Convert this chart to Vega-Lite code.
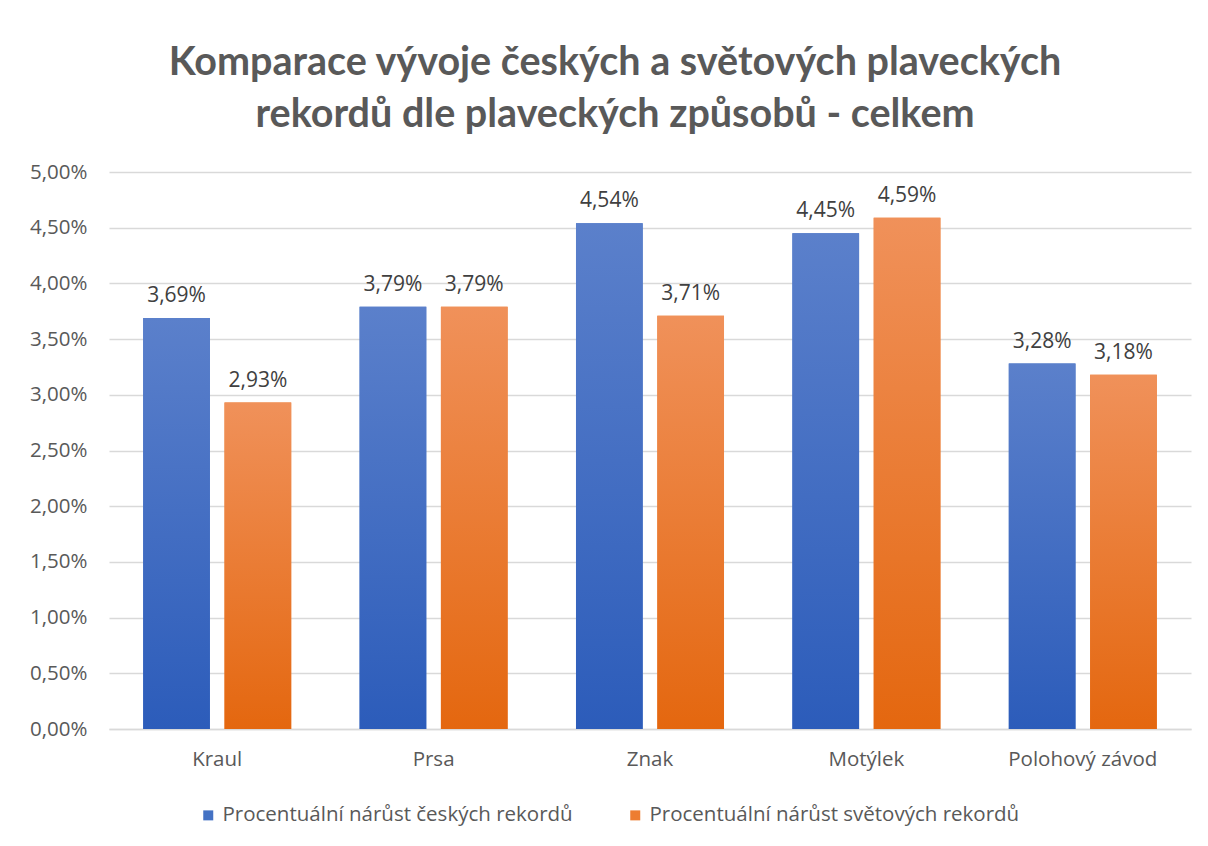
{
  "$schema": "https://vega.github.io/schema/vega-lite/v6.json",
  "width": 1082,
  "height": 557,
  "autosize": {"type": "none"},
  "padding": {"left": 109, "top": 172, "right": 17, "bottom": 117},
  "background": "white",
  "title": {
    "text": ["Komparace vývoje českých a světových plaveckých", "rekordů dle plaveckých způsobů - celkem"],
    "font": "Lato",
    "fontSize": 39.5,
    "fontWeight": "bold",
    "color": "#595959",
    "anchor": "middle",
    "dx": -35,
    "offset": 27,
    "lineHeight": 52
  },
  "data": {
    "values": [
      {"cat": "Kraul", "s": "Procentuální nárůst českých rekordů", "v": 0.0369},
      {"cat": "Kraul", "s": "Procentuální nárůst světových rekordů", "v": 0.0293},
      {"cat": "Prsa", "s": "Procentuální nárůst českých rekordů", "v": 0.0379},
      {"cat": "Prsa", "s": "Procentuální nárůst světových rekordů", "v": 0.0379},
      {"cat": "Znak", "s": "Procentuální nárůst českých rekordů", "v": 0.0454},
      {"cat": "Znak", "s": "Procentuální nárůst světových rekordů", "v": 0.0371},
      {"cat": "Motýlek", "s": "Procentuální nárůst českých rekordů", "v": 0.0445},
      {"cat": "Motýlek", "s": "Procentuální nárůst světových rekordů", "v": 0.0459},
      {"cat": "Polohový závod", "s": "Procentuální nárůst českých rekordů", "v": 0.0328},
      {"cat": "Polohový závod", "s": "Procentuální nárůst světových rekordů", "v": 0.0318}
    ]
  },
  "encoding": {
    "x": {
      "field": "cat", "type": "nominal", "sort": null,
      "scale": {"paddingInner": 0.316, "paddingOuter": 0.158},
      "axis": {"title": null, "labelAngle": 0, "labelFont": "Open Sans", "labelFontSize": 20.5, "labelColor": "#595959", "labelPadding": 20, "ticks": false, "domainColor": "#d9d9d9", "domainWidth": 1.5, "grid": false}
    },
    "xOffset": {"field": "s", "type": "nominal", "sort": ["Procentuální nárůst českých rekordů", "Procentuální nárůst světových rekordů"], "scale": {"paddingInner": 0.18, "paddingOuter": 0}},
    "y": {
      "field": "v", "type": "quantitative",
      "scale": {"domain": [0, 0.05], "nice": false},
      "axis": {"title": null, "format": ".2%", "values": [0, 0.005, 0.01, 0.015, 0.02, 0.025, 0.03, 0.035, 0.04, 0.045, 0.05], "labelFont": "Open Sans", "labelFontSize": 20.5, "labelColor": "#595959", "labelPadding": 22, "ticks": false, "domain": false, "gridColor": "#d9d9d9", "gridWidth": 1.5}
    }
  },
  "layer": [
    {
      "mark": {"type": "bar"},
      "encoding": {
        "color": {
          "field": "s", "type": "nominal",
          "scale": {"domain": ["Procentuální nárůst českých rekordů", "Procentuální nárůst světových rekordů"], "range": ["#4472C4", "#ED7D31"]},
          "legend": {"title": null, "orient": "none", "direction": "horizontal", "legendX": 89, "legendY": 633, "symbolType": "square", "symbolSize": 100, "symbolStrokeWidth": 0, "labelFont": "Open Sans", "labelFontSize": 20.5, "labelColor": "#595959", "labelOffset": 4, "columnPadding": 52, "labelLimit": 600}
        }
      }
    },
    {
      "mark": {"type": "bar"},
      "encoding": {
        "fill": {
          "condition": {
            "test": "datum.s === 'Procentuální nárůst českých rekordů'",
            "value": {"gradient": "linear", "x1": 0, "y1": 0, "x2": 0, "y2": 1, "stops": [{"offset": 0, "color": "#5b80cb"}, {"offset": 1, "color": "#2c5cba"}]}
          },
          "value": {"gradient": "linear", "x1": 0, "y1": 0, "x2": 0, "y2": 1, "stops": [{"offset": 0, "color": "#f0915a"}, {"offset": 1, "color": "#e4670f"}]}
        }
      }
    },
    {
      "mark": {"type": "text", "baseline": "bottom", "dy": -12, "font": "Open Sans", "fontSize": 21, "color": "#404040"},
      "encoding": {
        "text": {"field": "v", "type": "quantitative", "format": ".2%"}
      }
    }
  ],
  "config": {
    "locale": {"number": {"decimal": ",", "thousands": " ", "grouping": [3], "currency": ["", " Kč"]}},
    "view": {"stroke": null}
  }
}
